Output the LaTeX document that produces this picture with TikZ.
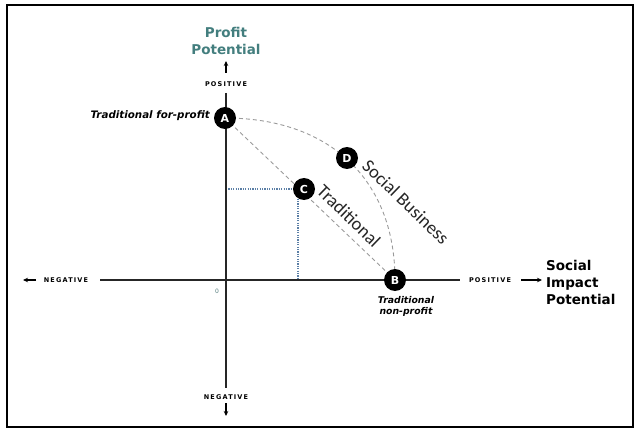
\documentclass[tikz,border=0pt]{standalone}
\usepackage{fontspec}
\setmainfont{DejaVu Sans}
\newfontfamily\carl{Carlito}
\newfontfamily\capsf[LetterSpace=18]{DejaVu Sans}
\usetikzlibrary{arrows.meta,backgrounds}
\definecolor{tealc}{HTML}{437E7E}
\definecolor{dotblue}{HTML}{5B7FA6}
\definecolor{dashgray}{HTML}{9A9A9A}
\begin{document}
\begin{tikzpicture}[x=1pt,y=-1pt,
  axis/.style={line width=1.5pt, draw=black!85},
  ptnode/.style={circle, fill=black, text=white, minimum size=22pt, inner sep=0pt, font=\bfseries\fontsize{11}{11}\selectfont},
  dashln/.style={draw=dashgray, dash pattern=on 4pt off 3pt, line width=0.9pt},
  dotln/.style={draw=dotblue, dash pattern=on 1.2pt off 1.2pt, line width=1.3pt},
  capl/.style={font=\capsf\bfseries\fontsize{6.5}{7}\selectfont, inner sep=0pt},
  arr/.style={-{Stealth[length=5pt,width=4.5pt]}, line width=1.3pt},
  lab/.style={font=\bfseries\itshape\fontsize{10.3}{12}\selectfont, inner sep=0pt},
  labsm/.style={font=\bfseries\itshape\fontsize{9.3}{11}\selectfont, inner sep=0pt, align=center},
  ttl/.style={font=\bfseries\fontsize{13.5}{17}\selectfont, inner sep=0pt},
  diag/.style={font=\carl\fontsize{18.5}{18.5}\selectfont, inner sep=0pt, text=black!85}
]
\useasboundingbox (0,0) rectangle (641,436);
\draw[line width=1.2pt] (7,5) rectangle (633,427);

% axes
\coordinate (ytop) at (226,93);
\coordinate (ybot) at (226,388);
\coordinate (xl) at (100,280);
\coordinate (xr) at (460,280);
\draw[axis] (ytop) -- (ybot);
\draw[axis] (xl) -- (xr);

% axis end labels and arrows
\node[capl] (posy) at (226,84) {POSITIVE};
\node[capl] (negy) at (226,397) {NEGATIVE};
\node[capl] (negx) at (66,280) {NEGATIVE};
\node[capl] (posx) at (490,280) {POSITIVE};
\coordinate (ua1) at (226,73); \coordinate (ua2) at (226,61);
\coordinate (da1) at (226,403); \coordinate (da2) at (226,416);
\coordinate (la1) at (36,280); \coordinate (la2) at (23,280);
\coordinate (ra1) at (521,280); \coordinate (ra2) at (542,280);
\draw[arr] (ua1) -- (ua2);
\draw[arr] (da1) -- (da2);
\draw[arr] (la1) -- (la2);
\draw[arr] (ra1) -- (ra2);

\node[ttl, text=tealc, align=center] (pp) at (226,41) {Profit\\Potential};
\node[ttl, align=left, anchor=west] (sip) at (546,282) {Social\\Impact\\Potential};
\node[font=\fontsize{6}{6}\selectfont, text=tealc!70!gray, inner sep=0pt] (zero) at (217,291) {0};

% points
\node[ptnode] (A) at (225,118) {A};
\node[ptnode] (B) at (395,280) {B};
\node[ptnode] (C) at (304,189) {C};
\node[ptnode] (D) at (347,158) {D};

\node[lab, anchor=base east] (tfp) at (210,119) {Traditional for-profit};
\node[labsm] (tnp) at (406,306) {Traditional\\non-profit};

\begin{scope}[on background layer]
\draw[dashln] (A.center) -- (B.center);
\draw[dashln] (A.center) .. controls (330,118) and (395,180) .. (B.center);
\coordinate (cy) at (226,189);
\coordinate (cc) at (298,189);
\coordinate (cx) at (298,280);
\draw[dotln] (cy) -- (cc) -- (cx);
\end{scope}

\node[diag, rotate=-44] (trad) at (349,216) {Traditional};
\node[diag, rotate=-44] (sb) at (406,202) {Social Business};
\end{tikzpicture}
\end{document}
